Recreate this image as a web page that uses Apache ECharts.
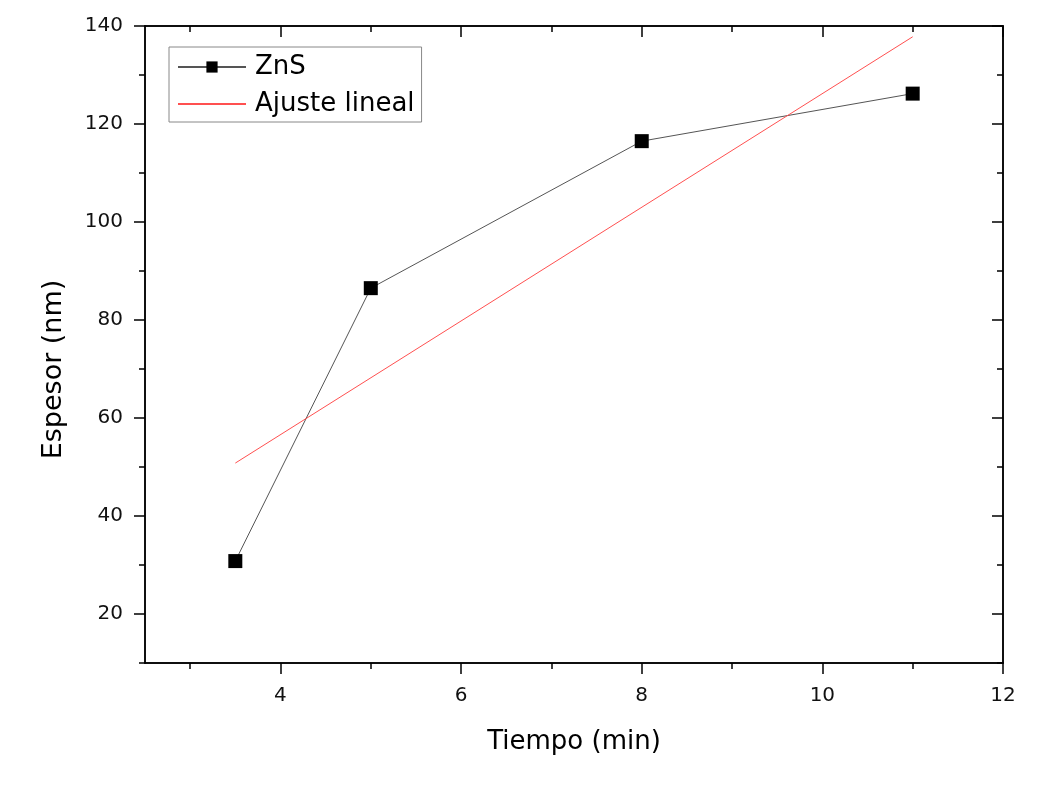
<!DOCTYPE html>
<html><head><meta charset="utf-8">
<script src="https://cdn.jsdelivr.net/npm/echarts@6/dist/echarts.min.js"></script>
<style>html,body{margin:0;padding:0;background:#fff}#c{width:1063px;height:803px}</style>
</head><body><div id="c"></div>
<script>
const tiempo = [3.5, 5, 8, 11];
const espesor = [30.8, 86.5, 116.5, 126.2];
const fitX = [3.5, 11];
const fitY = [50.8, 137.8];
const xMajor = [4, 6, 8, 10, 12];
const xMinor = [3, 5, 7, 9, 11];
const yMajor = [20, 40, 60, 80, 100, 120, 140];
const yMinor = [10, 30, 50, 70, 90, 110, 130];

const FONT = 'DejaVu Sans';
const lineStyle = {color: '#000', width: 1.5};
function xAx(pos, vals, len, inside, labels, extra) {
  return Object.assign({
    type: 'value', min: 2.5, max: 12, position: pos,
    axisLine: {show: true, lineStyle},
    axisTick: {show: true, customValues: vals, length: len, inside, lineStyle},
    axisLabel: labels ? {show: true, customValues: vals, fontFamily: FONT, fontSize: 20, color: '#111', margin: 23} : {show: false},
    splitLine: {show: false}
  }, extra || {});
}
function yAx(pos, vals, len, inside, labels, extra) {
  return Object.assign({
    type: 'value', min: 10, max: 140, position: pos,
    axisLine: {show: true, lineStyle},
    axisTick: {show: true, customValues: vals, length: len, inside, lineStyle},
    axisLabel: labels ? {show: true, customValues: vals, fontFamily: FONT, fontSize: 20, color: '#111', margin: 22} : {show: false},
    splitLine: {show: false}
  }, extra || {});
}
const chart = echarts.init(document.getElementById('c'), null, {renderer: 'canvas'});
chart.setOption({
  backgroundColor: '#fff',
  animation: false,
  grid: {left: 145, right: 60, top: 26, bottom: 140, containLabel: false},
  legend: {
    orient: 'vertical', left: 169, top: 47,
    backgroundColor: '#fff', borderColor: '#888', borderWidth: 1,
    padding: [7, 7, 5, 8], itemGap: 11, itemWidth: 68, itemHeight: 14,
    textStyle: {fontFamily: FONT, fontSize: 26, color: '#000', padding: [0, 0, 0, 4]},
    data: [
      {name: 'ZnS'},
      {name: 'Ajuste lineal', itemStyle: {opacity: 0}}
    ]
  },
  xAxis: [
    xAx('bottom', xMajor, 11, false, true, {name: 'Tiempo (min)', nameLocation: 'middle', nameGap: 66, nameTextStyle: {fontFamily: FONT, fontSize: 26, color: '#000'}}),
    xAx('bottom', xMinor, 6, false, false),
    xAx('top', xMajor, 11, true, false),
    xAx('top', xMinor, 6, true, false)
  ],
  yAxis: [
    yAx('left', yMajor, 11, false, true, {name: 'Espesor (nm)', nameLocation: 'middle', nameGap: 78, nameTextStyle: {fontFamily: FONT, fontSize: 27, color: '#000', padding: [0, 50, 0, 0]}}),
    yAx('left', yMinor, 6, false, false),
    yAx('right', yMajor, 11, true, false),
    yAx('right', yMinor, 6, true, false)
  ],
  series: [
    {name: 'ZnS', type: 'line', xAxisIndex: 0, yAxisIndex: 0,
     data: tiempo.map((x, i) => [x, espesor[i]]),
     symbol: 'rect', symbolSize: 14,
     itemStyle: {color: '#000'},
     lineStyle: {color: '#555', width: 1}},
    {name: 'Ajuste lineal', type: 'line', xAxisIndex: 0, yAxisIndex: 0,
     data: fitX.map((x, i) => [x, fitY[i]]),
     symbol: 'none', showSymbol: false,
     itemStyle: {color: '#ff5050'},
     lineStyle: {color: '#ff5050', width: 1}}
  ]
});
</script></body></html>
